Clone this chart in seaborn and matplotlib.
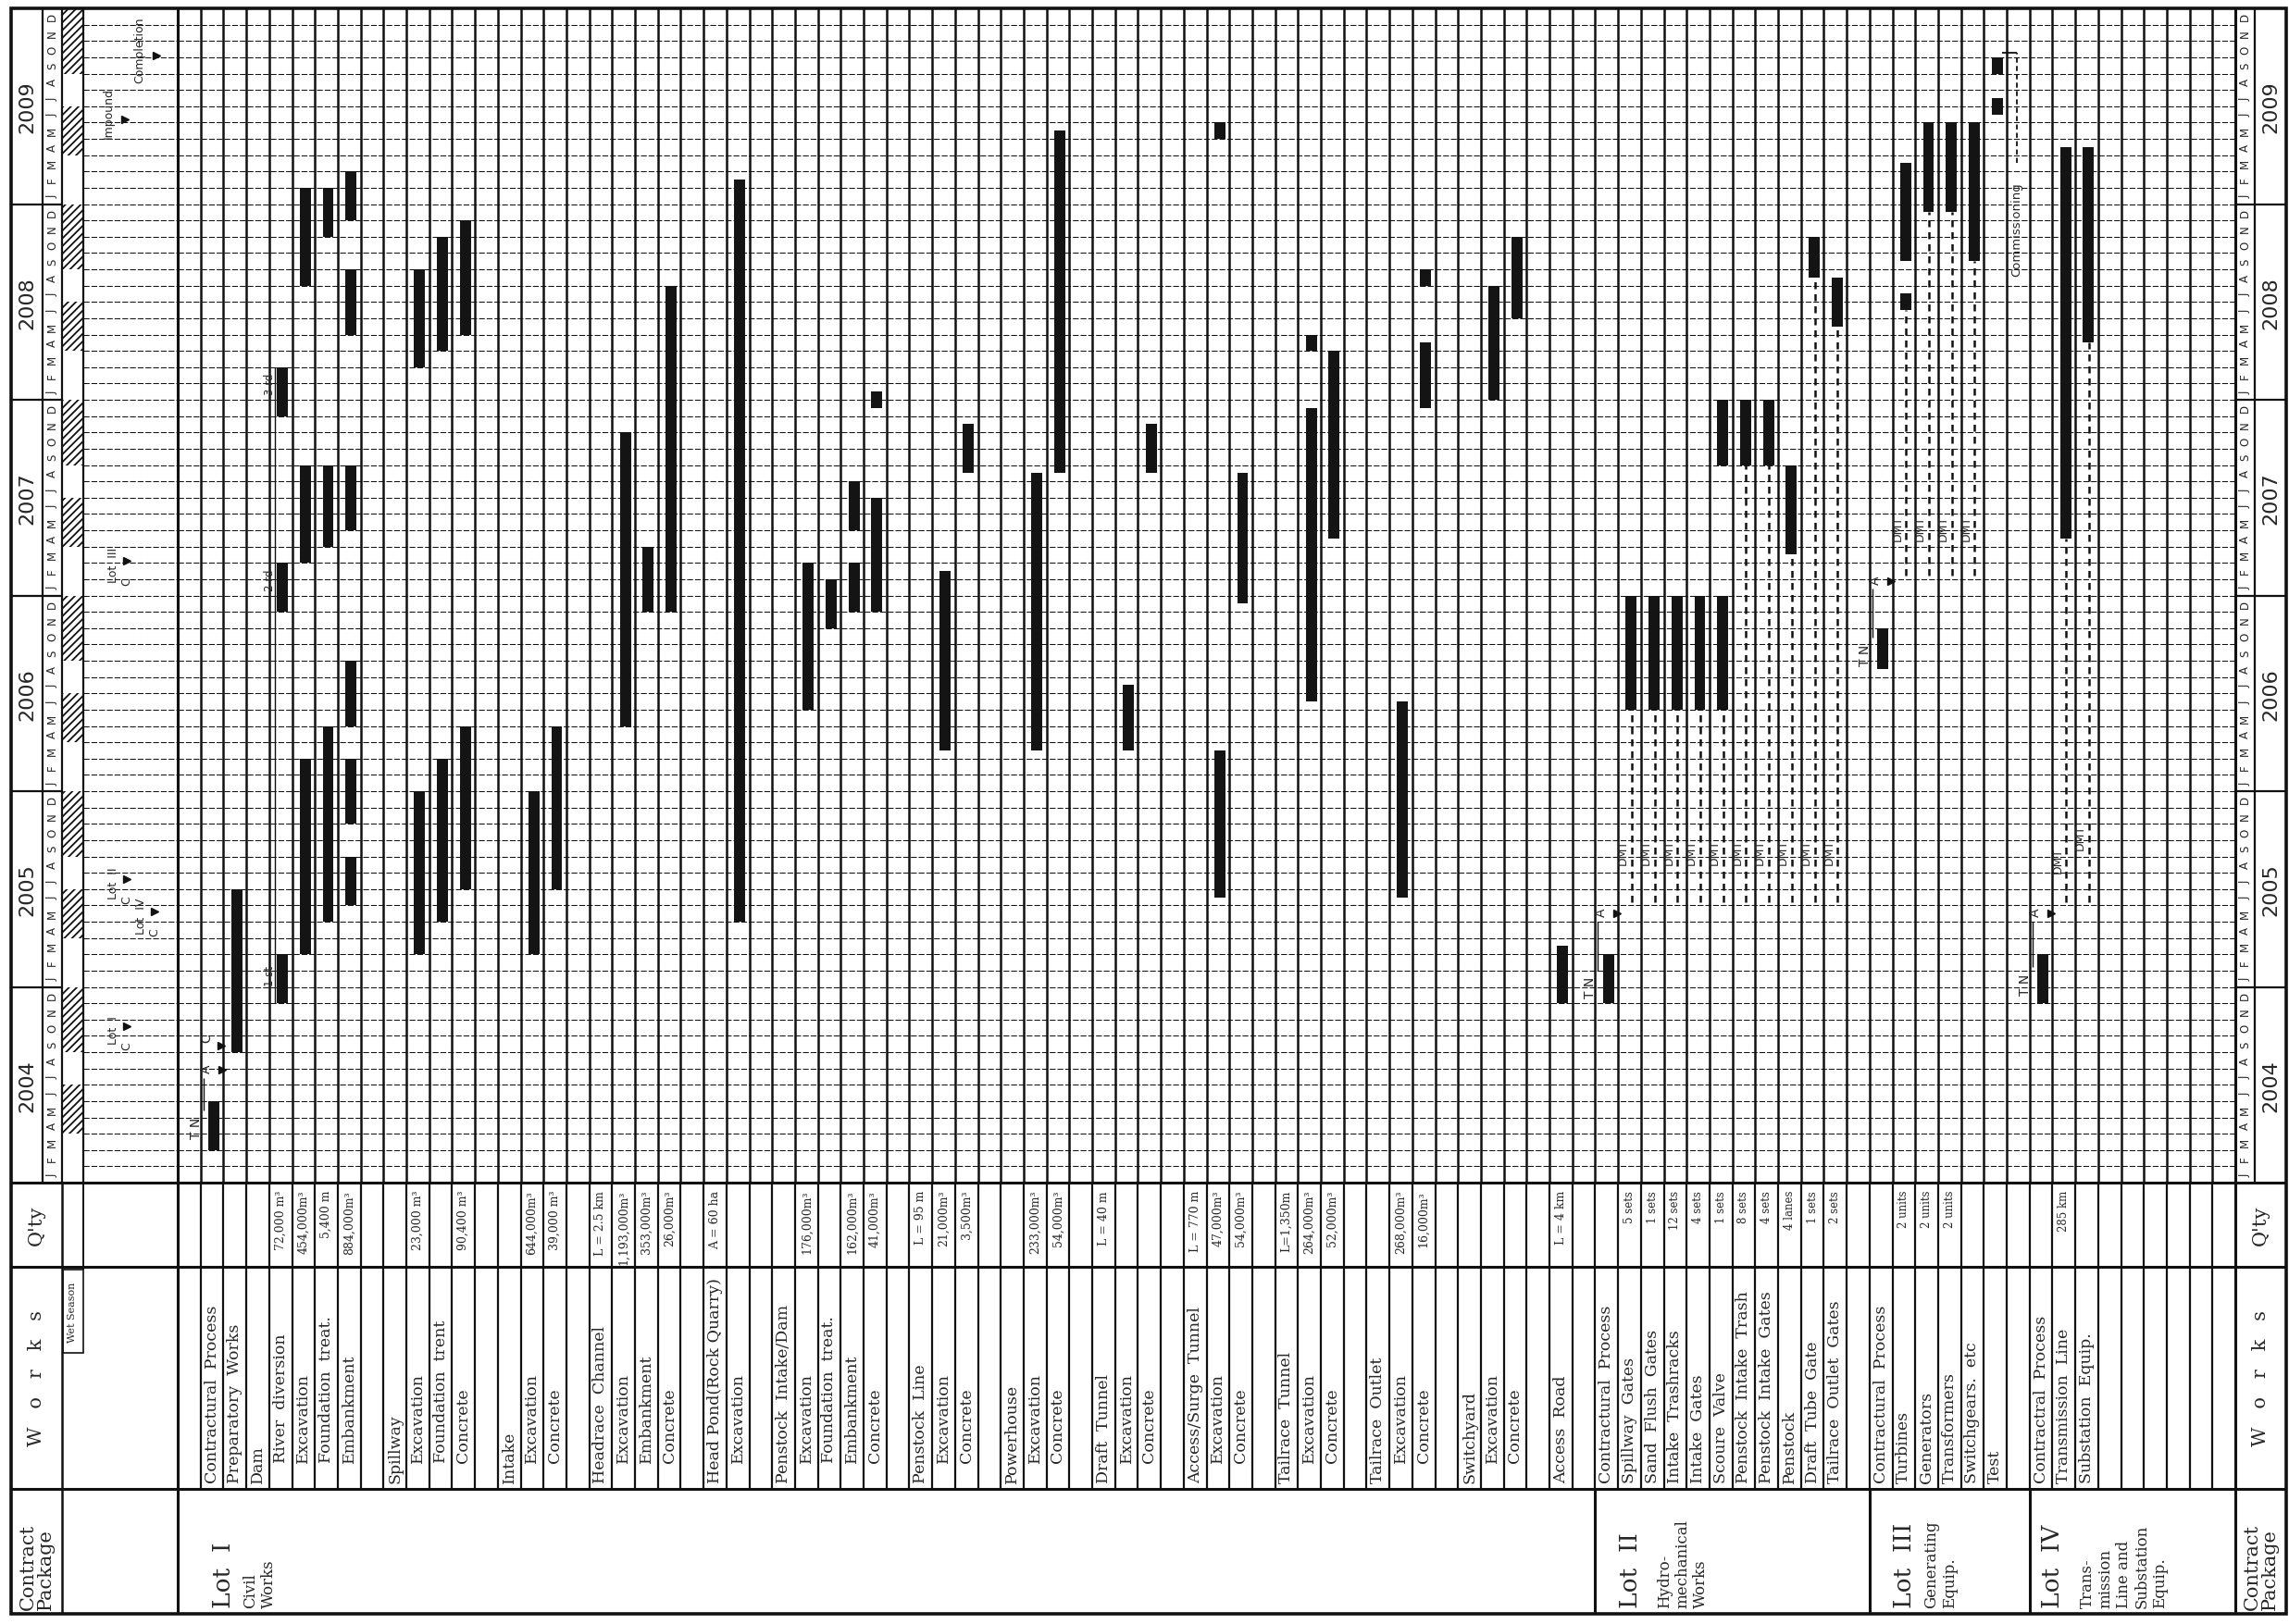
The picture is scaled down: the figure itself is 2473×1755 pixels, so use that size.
import matplotlib
matplotlib.use("Agg")
import numpy as np
import matplotlib.pyplot as plt
from matplotlib.patches import Rectangle
import seaborn as sns

# ---------------- schedule data ----------------
# one entry per row of the (rotated) sheet, row 0 is the blank row before Lot I
works = [
    "", "Contractural  Process", "Preparatory  Works", "Dam", "River  diversion",
    "Excavation", "Foundation  treat.", "Embankment",
    "", "Spillway", "Excavation", "Foundation  trent", "Concrete",
    "", "Intake", "Excavation", "Concrete",
    "", "Headrace  Channel", "Excavation", "Embankment", "Concrete",
    "", "Head Pond(Rock Quarry)", "Excavation",
    "", "Penstock  Intake/Dam", "Excavation", "Foundation  treat.", "Embankment", "Concrete",
    "", "Penstock  Line", "Excavation", "Concrete",
    "", "Powerhouse", "Excavation", "Concrete",
    "", "Draft  Tunnel", "Excavation", "Concrete",
    "", "Access/Surge  Tunnel", "Excavation", "Concrete",
    "", "Tailrace  Tunnel", "Excavation", "Concrete",
    "", "Tailrace  Outlet", "Excavation", "Concrete",
    "", "Switchyard", "Excavation", "Concrete",
    "", "Access  Road", "",
    "Contractural  Process", "Spillway  Gates", "Sand  Flush  Gates", "Intake  Trashracks",
    "Intake  Gates", "Scoure  Valve", "Penstock  Intake  Trash", "Penstock  Intake  Gates",
    "Penstock", "Draft  Tube  Gate", "Tailrace  Outlet  Gates", "",
    "Contractural  Process", "Turbines", "Generators", "Transformers", "Switchgears.  etc", "Test", "",
    "Contractral  Process", "Transmission  Line", "Substation  Equip.", "", "", "", "", "", "",
]
sub_rows = [4, 5, 6, 7, 10, 11, 12, 15, 16, 19, 20, 21, 24, 27, 28, 29, 30,
            33, 34, 37, 38, 41, 42, 45, 46, 49, 50, 53, 54, 57, 58]

qty_rows = [4, 5, 6, 7, 10, 12, 15, 16, 18, 19, 20, 21, 23, 27, 29, 30, 32, 33, 34,
            37, 38, 40, 44, 45, 46, 48, 49, 50, 53, 54, 60,
            63, 64, 65, 66, 67, 68, 69, 70, 71, 72, 75, 76, 77, 82]
qty_text = ["72,000 m³", "454,000m³", "5,400 m", "884,000m³", "23,000 m³", "90,400 m³",
            "644,000m³", "39,000 m³", "L = 2.5 km", "1,193,000m³", "353,000m³", "26,000m³",
            "A = 60 ha", "176,000m³", "162,000m³", "41,000m³", "L = 95 m", "21,000m³",
            "3,500m³", "233,000m³", "54,000m³", "L = 40 m", "L = 770 m", "47,000m³",
            "54,000m³", "L=1,350m", "264,000m³", "52,000m³", "268,000m³", "16,000m³",
            "L = 4 km", "5 sets", "1 sets", "12 sets", "4 sets", "1 sets", "8 sets",
            "4 sets", "4 lanes", "1 sets", "2 sets", "2 units", "2 units", "2 units", "285 km"]

# bars: row, start month, end month (month 0 = start of Jan 2004)
bar_row = [1, 2, 4, 4, 4, 5, 5, 5, 6, 6, 6, 7, 7, 7, 7, 7, 7,
           10, 10, 11, 11, 12, 12, 15, 16, 19, 20, 21, 24, 27, 28, 29, 29, 30, 30,
           33, 34, 37, 38, 41, 42, 45, 45, 46, 49, 49, 50, 53, 54, 54, 57, 58, 60,
           62, 63, 64, 65, 66, 67, 67, 68, 69, 70, 71, 72,
           74, 75, 75, 76, 77, 78, 79, 79, 81, 82, 83]
bar_start = [2, 8, 11, 35, 47, 14, 38, 55, 16, 39, 58, 17, 22, 28, 40, 52, 59,
             14, 50, 16, 51, 18, 52, 14, 18, 28, 35, 35, 16, 29, 34, 35, 40, 35, 47.5,
             26.5, 43.5, 26.5, 43.5, 26.5, 43.5, 17.5, 64, 35.5, 29.5, 51, 39.5, 17.5, 47.5, 55, 48, 53, 11,
             11, 29, 29, 29, 29, 29, 44, 44, 44, 38.5, 55.5, 52.5,
             31.5, 53.5, 56.5, 59.5, 59.5, 56.5, 65.5, 68, 11, 39.5, 51.5]
bar_end = [5, 18, 14, 38, 50, 26, 44, 61, 28, 44, 61, 20, 26, 32, 44, 56, 62,
           24, 56, 26, 58, 28, 59, 24, 28, 46, 39, 55, 61.5, 38, 37, 38, 43, 42, 48.5,
           37.5, 46.5, 43.5, 64.5, 30.5, 46.5, 26.5, 65, 43.5, 47.5, 52, 51, 29.5, 51.5, 56, 55, 58, 14.5,
           14, 36, 36, 36, 36, 36, 48, 48, 48, 44, 58, 55.5,
           34, 54.5, 62.5, 65, 65, 65, 66.5, 69, 14, 63.5, 63.5]

years = [2004, 2005, 2006, 2007, 2008, 2009]
month_letters = ["J", "F", "M", "A", "M", "J", "J", "A", "S", "O", "N", "D"]
wet_months = [3, 4, 5, 8, 9, 10, 11]

lot_names = ["Lot  I", "Lot  II", "Lot  III", "Lot  IV"]
lot_desc = ["Civil\nWorks", "Hydro-\nmechanical\nWorks", "Generating\nEquip.",
            "Trans-\nmission\nLine and\nSubstation\nEquip."]
lot_start_row = [0, 62, 74, 81]

# contract process milestones
cp_row = [1, 62, 74, 81]
tn_month = [3.4, 12.0, 32.4, 12.2]
award_month = [7.0, 16.6, 37.0, 16.6]
lot1_close_month = 8.7

# delivery / manufacturing / transport dashed lines
dmt_rows = [63, 64, 65, 66, 67, 68, 69, 70, 71, 72, 75, 76, 77, 78, 82, 83]
dmt_from = [17.2, 17.2, 17.2, 17.2, 17.2, 17.2, 17.2, 17.2, 17.2, 17.2,
            37.2, 37.2, 37.2, 37.2, 17.2, 17.2]
dmt_label_month = [20.3, 20.3, 20.3, 20.3, 20.3, 20.3, 20.3, 20.3, 20.3, 20.3,
                   40.2, 40.2, 40.2, 40.2, 19.8, 21.2]

div_text = ["1 st", "2 rd", "3 rd"]
div_month = [12.7, 37.0, 49.0]

ms_text = ["Lot  I", "Lot  II", "Lot  IV", "Lot  III", "Impound", "Completion"]
ms_month = [9.0, 18.0, 16.0, 37.5, 65.2, 69.1]

comm_start, comm_end = 55.6, 69.3

# ---------------- layout (pixels) ----------------
W, H, DPI = 2473, 1756, 100
XL, XR = 12, 2470
X0, X1 = 192, 2415
XYM, XMH, XHB = 46, 67, 90
XRM = 2436
YT, YB, YQ, YWK, YBOT = 10, 1279, 1370, 1610, 1745
NROW, NMON = 90, 72
SERIF = ["DejaVu Serif"]

sns.set_theme(style="white")
plt.rcParams["font.family"] = ["DejaVu Sans"]
plt.rcParams["hatch.linewidth"] = 1.3

fig = plt.figure(figsize=(W / DPI, H / DPI), dpi=DPI, facecolor="white")


def add_ax(x0, y0, x1, y1):
    ax = fig.add_axes([x0 / W, 1 - y1 / H, (x1 - x0) / W, (y1 - y0) / H])
    ax.axis("off")
    return ax


ax_page = add_ax(0, 0, W, H)
ax_page.set_xlim(0, W)
ax_page.set_ylim(H, 0)
ax_tl = add_ax(X0, YT, X1, YB)
ax_tl.set_xlim(0, NROW)
ax_tl.set_ylim(0, NMON)
ax_hl = add_ax(XL, YT, X0, YB)
ax_hl.set_xlim(XL, X0)
ax_hl.set_ylim(0, NMON)
ax_hr = add_ax(X1, YT, XR, YB)
ax_hr.set_xlim(X1, XR)
ax_hr.set_ylim(0, NMON)
ax_lo = add_ax(X0, YB, X1, YBOT)
ax_lo.set_xlim(0, NROW)
ax_lo.set_ylim(YBOT, YB)

K = "#111111"

# ---------------- page frame and bands ----------------
ax_page.add_patch(Rectangle((XL, YT), XR - XL, YBOT - YT, fill=False, lw=2.6, ec=K))
ax_page.hlines([YB, YQ, YWK], XL, XR, color=K, lw=2.2)
ax_page.vlines([X0, X1], YT, YBOT, color=K, lw=2.2)
ax_page.vlines(XMH, YB, YBOT, color=K, lw=1.8)
ax_page.vlines(XHB, YB, 1373, color=K, lw=1.4)
ax_page.add_patch(Rectangle((XMH + 1, 1373), XHB - XMH - 1, 90, fill=False, lw=1.2, ec=K))
ax_page.text((XMH + XHB) / 2, 1418, "Wet Season", rotation=90, ha="center", va="center",
             fontsize=8, family=SERIF)

for xc in [(XL + XMH) / 2, (X1 + XR) / 2]:
    ax_page.text(xc, 1740, "Contract\nPackage", rotation=90, ha="center", va="bottom",
                 fontsize=15, family=SERIF, multialignment="left", linespacing=1.0)
    ax_page.text(xc, (YQ + YWK) / 2, "W   o   r   k   s", rotation=90, ha="center",
                 va="center", fontsize=15, family=SERIF)
    ax_page.text(xc, (YB + YQ) / 2, "Q'ty", rotation=90, ha="center", va="center",
                 fontsize=15, family=SERIF)

lot_name_x = [229, 1749, 2045, 2205]
lot_desc_x = [262, 1790, 2078, 2247]
for name, desc, xn, xd in zip(lot_names, lot_desc, lot_name_x, lot_desc_x):
    ax_page.text(xn, 1738, name, rotation=90, ha="left", va="bottom", fontsize=19,
                 family=SERIF)
    ax_page.text(xd, 1738, desc, rotation=90, ha="left", va="bottom", fontsize=12,
                 family=SERIF, multialignment="left", linespacing=1.2)

# ---------------- lower table (works / quantities) ----------------
ax_lo.vlines(np.arange(1, NROW), YB, YWK, color=K, lw=1.6)
ax_lo.vlines(lot_start_row[1:], YWK, YBOT, color=K, lw=2.2)
for r, label in enumerate(works):
    if not label:
        continue
    y = 1581 if r in sub_rows else 1603
    ax_lo.text(r + 0.5, y, label, rotation=90, ha="center", va="bottom",
               fontsize=12.5, family=SERIF)
for r, txt in zip(qty_rows, qty_text):
    ax_lo.text(r + 0.5, 1287, txt, rotation=90, ha="center", va="top",
               fontsize=9 if r < 62 else 8.5, family=SERIF)

# ---------------- timeline grid ----------------
ax_tl.hlines(np.arange(1, NMON), 0, NROW, color=K, lw=0.75, linestyles=(0, (6, 2)))
ax_tl.vlines(np.arange(1, NROW), 0, NMON, color=K, lw=1.8)

rows = np.array(bar_row)
starts = np.array(bar_start, dtype=float)
ends = np.array(bar_end, dtype=float)
ax_tl.bar(rows + 0.58, ends - starts, bottom=starts, width=0.48, color="#141414",
          zorder=3, linewidth=0)

# dashed delivery lines with DMT labels
for r, f, lm in zip(dmt_rows, dmt_from, dmt_label_month):
    first = starts[(rows == r) & (starts > f)].min()
    ax_tl.vlines(r + 0.6, f, first, color=K, lw=1.8, linestyles=(0, (3, 2.2)))
    ax_tl.text(r + 0.22, lm, "DMT", rotation=90, ha="center", va="center", fontsize=9)

# tender / award milestones
for r, tn, am in zip(cp_row, tn_month, award_month):
    ax_tl.text(r - 0.2, tn, "T N", rotation=90, ha="center", va="center", fontsize=10)
    ax_tl.vlines(r + 0.12, tn + 1.0, am - 0.6, color=K, lw=1.0)
    ax_tl.text(r + 0.25, am, "A", rotation=90, ha="center", va="center", fontsize=10)
    ax_tl.plot(r + 0.95, am - 0.1, marker=">", ms=6, color=K)
ax_tl.text(cp_row[0] + 0.25, lot1_close_month + 0.2, "C", rotation=90, ha="center",
           va="center", fontsize=10)
ax_tl.plot(cp_row[0] + 0.92, lot1_close_month - 0.3, marker=">", ms=6, color=K)

# river diversion stages
ax_tl.vlines(4.24, bar_start[2], bar_end[4], color=K, lw=1.0)
for t, m in zip(div_text, div_month):
    ax_tl.text(4.02, m, t, rotation=90, ha="center", va="center", fontsize=8.5)

# commissioning
ax_tl.text(80.45, comm_start, "Commissioning", rotation=90, ha="center", va="bottom",
           fontsize=9.5)
ax_tl.vlines(80.45, comm_start + 6.9, comm_end, color=K, lw=1.3, linestyles=(0, (3, 2)))
ax_tl.hlines(comm_end, 79.8, 80.45, color=K, lw=1.3)

# ---------------- header strips ----------------
for ax, xm0, xm1, xy0, xy1 in [(ax_hl, XYM, XMH, XL, XYM), (ax_hr, X1, XRM, XRM, XR)]:
    ax.vlines([xm0, xm1], 0, NMON, color=K, lw=1.6)
    ax.hlines(np.arange(12, NMON, 12), min(xy0, xm0), max(xy1, xm1), color=K, lw=1.6)
    for k, yr in enumerate(years):
        ax.text((xy0 + xy1) / 2, 12 * k + 6, str(yr), rotation=90, ha="center",
                va="center", fontsize=16)
        for m, letter in enumerate(month_letters):
            ax.text((xm0 + xm1) / 2, 12 * k + m + 0.5, letter, rotation=90, ha="center",
                    va="center", fontsize=8.5)

ax_hl.vlines(XHB, 0, NMON, color=K, lw=1.6)
ax_hl.hlines(np.arange(1, NMON), XHB, X0, color=K, lw=0.75, linestyles=(0, (6, 2)))
for k in range(len(years)):
    for m in wet_months:
        ax_hl.add_patch(Rectangle((XMH + 1, 12 * k + m), XHB - XMH - 2, 1, fill=False,
                                  hatch="////", lw=0, ec=K))

ms_x = [122, 122, 152, 122, 117, 151]
for t, m, x in zip(ms_text, ms_month, ms_x):
    ax_hl.text(x, m + 0.4, t, rotation=90, ha="center", va="center", fontsize=9)
    if t.startswith("Lot"):
        ax_hl.text(x + 15, m - 0.6, "C", rotation=90, ha="center", va="center", fontsize=9)
        ax_hl.plot(x + 15, m + 0.6, marker=">", ms=5.5, color=K)
    else:
        ax_hl.plot(x + 18, m, marker=">", ms=6, color=K)

fig.savefig("out.png", dpi=DPI, facecolor="white")
